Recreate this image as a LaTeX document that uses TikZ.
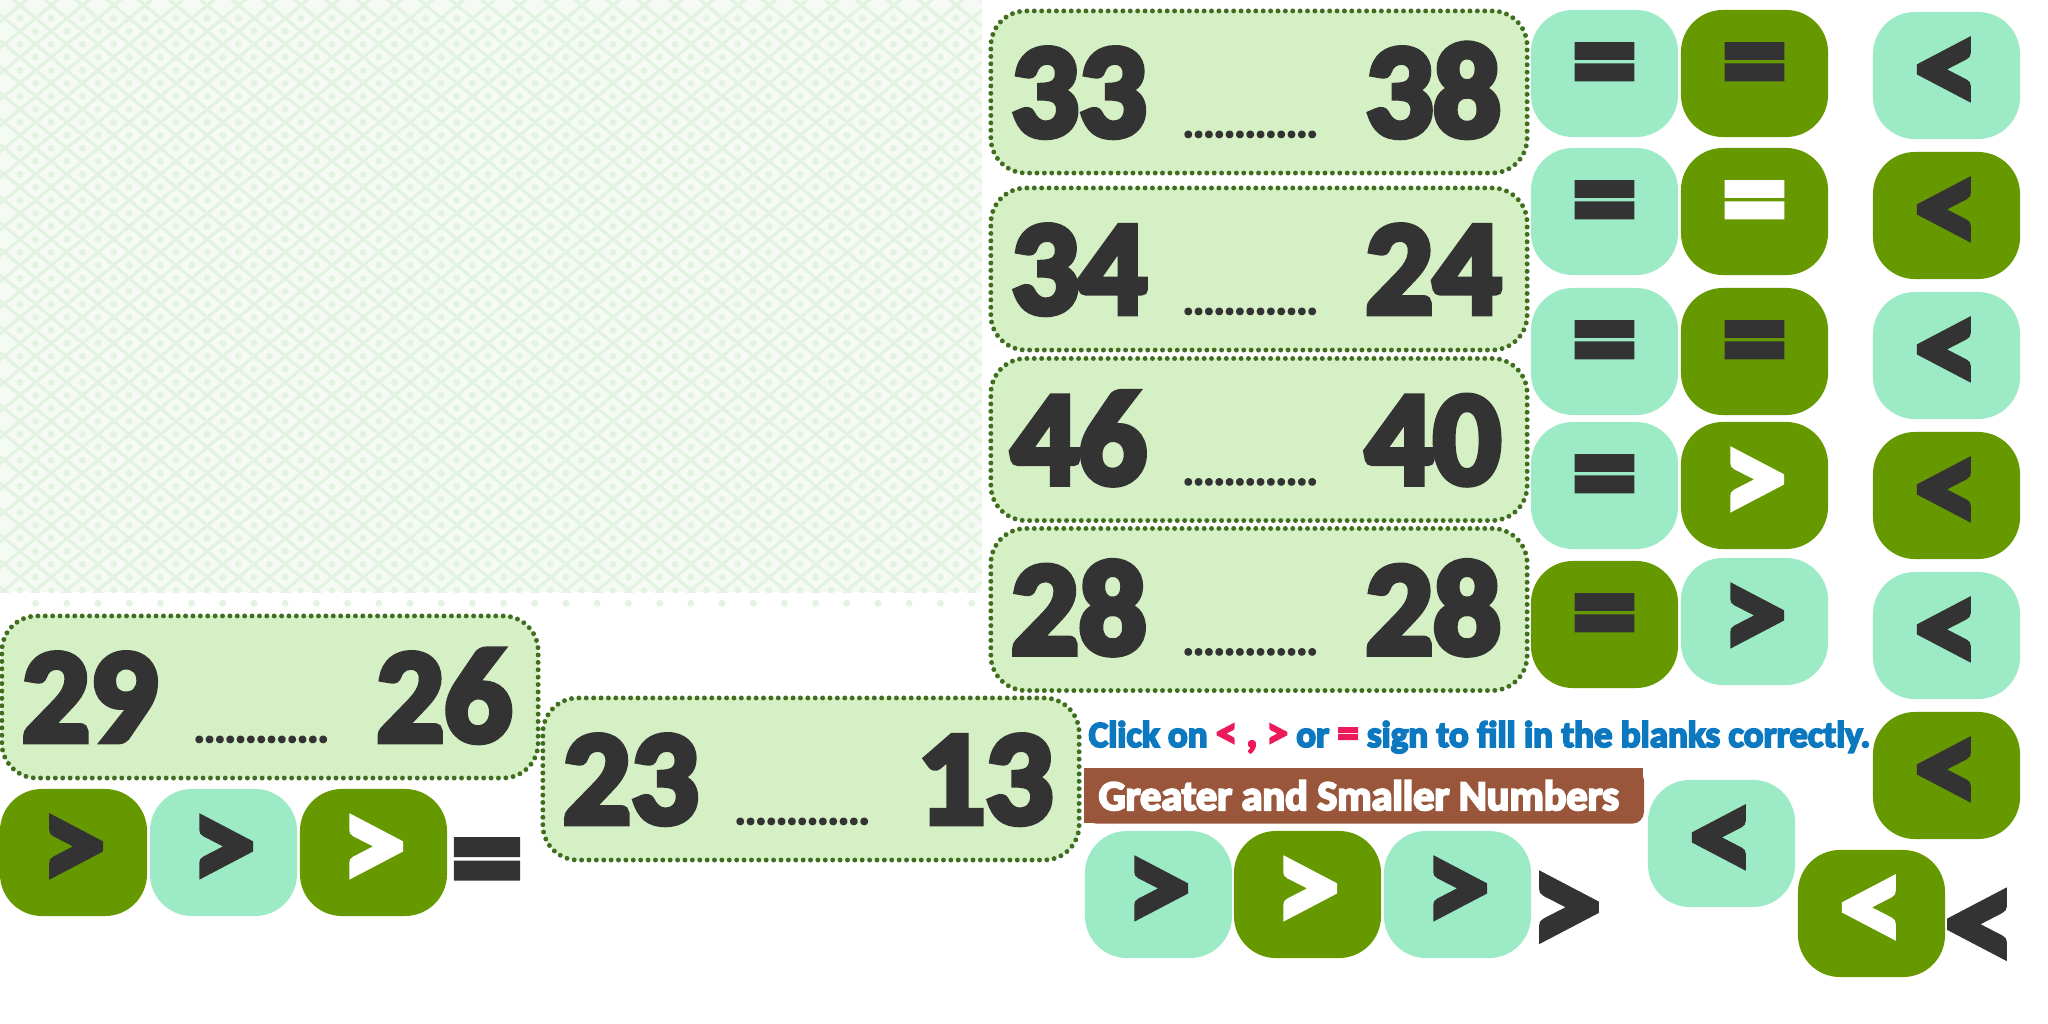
\documentclass[tikz,border=0pt]{standalone}
\usepackage{fontspec}
\setmainfont{Carlito}
\newfontfamily\numfam[FakeBold=5]{Carlito}
\newfontfamily\signfam[FakeBold=5]{Carlito}
\definecolor{PatBg}{HTML}{F5FBF4}
\definecolor{PatLine}{HTML}{E2F3E1}
\definecolor{BoxFill}{HTML}{D5F0C5}
\definecolor{BoxLine}{HTML}{3F6E1F}
\definecolor{BtnLite}{HTML}{9DEBC6}
\definecolor{BtnDark}{HTML}{669900}
\definecolor{SignClr}{HTML}{333333}
\definecolor{HintBlue}{HTML}{0B78C0}
\definecolor{HintRed}{HTML}{EC1A5A}
\definecolor{BannerClr}{HTML}{99563A}

\tikzset{
  numbox/.style={draw=BoxLine,fill=BoxFill,line width=1.4pt,line cap=round,
    dash pattern=on 0pt off 2.1pt,rounded corners=0.35cm,
    minimum width=5.36cm,minimum height=1.62cm,inner sep=0pt},
  numtxt/.style={font=\numfam\bfseries\fontsize{38}{38}\selectfont,text=SignClr,inner sep=0pt},
  blanks/.style={font=\numfam\bfseries\fontsize{11}{11}\selectfont,text=SignClr,inner sep=0pt},
  btn/.style={rounded corners=0.42cm,minimum width=1.47cm,minimum height=1.27cm,
    inner sep=0pt,font=\signfam\bfseries\fontsize{36}{36}\selectfont},
  bigsign/.style={text=SignClr,inner sep=0pt,font=\signfam\bfseries\fontsize{40}{40}\selectfont},
}

\begin{document}
\begin{tikzpicture}[x=0.01cm,y=-0.01cm]
\useasboundingbox (0,0) rectangle (2048,1024);

% background pattern
\begin{scope}
\clip (0,0) rectangle (982,592);
\fill[PatBg] (0,0) rectangle (982,592);
\foreach \k in {-32,...,24}
  \draw[PatLine,line width=0.9pt] (0,{-11.4+26*\k}) -- (982,{-11.4+26*\k+818});
\foreach \k in {0,...,56}
  \draw[PatLine,line width=0.9pt] (0,{-4+26*\k}) -- (982,{-4+26*\k-818});
\foreach \i in {0,...,31}
  \foreach \j in {0,...,22} {
    \fill[PatLine] ({20+31.2*\i},{18.3+26*\j}) circle (3.5);
    \fill[PatLine] ({35.6+31.2*\i},{31.3+26*\j}) circle (3.5);
  }
\end{scope}
\foreach \i in {0,...,30}
  \fill[PatLine] ({35.6+31.2*\i},603.3) circle (3.5);

% number boxes
\node[numbox] (bx1) at (1259,92) {};
\node[numbox] (bx2) at (1259,269) {};
\node[numbox] (bx3) at (1259,439.5) {};
\node[numbox] (bx4) at (1259,609.5) {};
\node[numbox] (bx5) at (270,697) {};
\node[numbox] (bx6) at (811,779) {};

\foreach \bx/\lt/\rt in {bx1/33/38,bx2/34/24,bx3/46/40,bx4/28/28,bx5/29/26,bx6/23/13} {
  \node[numtxt,anchor=base west] (\bx l) at ([shift={(22,44)}]\bx.west) {\lt};
  \node[numtxt,anchor=base east] (\bx r) at ([shift={(-28,44)}]\bx.east) {\rt};
  \node[blanks,anchor=base west] (\bx d) at ([shift={(194,45)}]\bx.west) {.............};
}

% sign buttons
\foreach \nm/\px/\py/\bg/\fg/\sg in {
  c1a/1604.5/73.5/BtnLite/SignClr/=, c1b/1604.5/211.5/BtnLite/SignClr/=,
  c1c/1604.5/351.5/BtnLite/SignClr/=, c1d/1604.5/485.5/BtnLite/SignClr/=,
  c1e/1604.5/624.5/BtnDark/SignClr/=,
  c2a/1754.5/73.5/BtnDark/SignClr/=, c2b/1754.5/211.5/BtnDark/white/=,
  c2c/1754.5/351.5/BtnDark/SignClr/=, c2d/1754.5/485.5/BtnDark/white/>,
  c2e/1754.5/621.5/BtnLite/SignClr/>,
  c3a/1946.5/75.5/BtnLite/SignClr/<, c3b/1946.5/215.5/BtnDark/SignClr/<,
  c3c/1946.5/355.5/BtnLite/SignClr/<, c3d/1946.5/495.5/BtnDark/SignClr/<,
  c3e/1946.5/635.5/BtnLite/SignClr/<, c3f/1946.5/775.5/BtnDark/SignClr/<,
  l1/73.5/852.5/BtnDark/SignClr/>, l2/223.5/852.5/BtnLite/SignClr/>,
  l3/373.5/852.5/BtnDark/white/>,
  m1/1158.5/894.5/BtnLite/SignClr/>, m2/1307.5/894.5/BtnDark/white/>,
  m3/1457.5/894.5/BtnLite/SignClr/>,
  r1/1721.5/843.5/BtnLite/SignClr/<, r2/1871.5/913.5/BtnDark/white/<}
  \node[btn,fill=\bg,text=\fg] (\nm) at (\px,\py) {\sg};

% loose signs
\node[bigsign] (eqsign) at (487,872) {=};
\node[bigsign] (gtsign) at (1566,914) {>};
\node[bigsign] (ltsign) at (1980,931) {<};

% hint and title
\node[anchor=base west,inner sep=0pt,text=HintBlue,
  font=\signfam\bfseries\fontsize{10.5}{10.5}\selectfont] (hint) at (1088,747)
  {Click on \textcolor{HintRed}{\fontsize{12}{12}\selectfont< , >} or
   \textcolor{HintRed}{\fontsize{12}{12}\selectfont=} sign to fill in the blanks correctly.};

\fill[BannerClr] (1084,768) rectangle (1631,823);
\fill[BannerClr] (1084,768) rectangle (1643,811);
\node[fill=BannerClr,rounded corners=0.12cm,anchor=north west,minimum width=5.59cm,
  minimum height=0.55cm,inner sep=0pt] (banner) at (1084,768) {};
\node[anchor=base west,inner sep=0pt,text=white,
  font=\signfam\bfseries\fontsize{12}{12}\selectfont] (title) at (1098,810)
  {Greater and Smaller Numbers};

\end{tikzpicture}
\end{document}
